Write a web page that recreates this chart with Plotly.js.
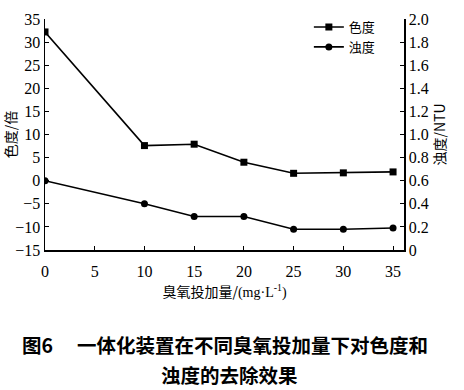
<!DOCTYPE html>
<html><head><meta charset="utf-8">
<script src="https://cdn.plot.ly/plotly-3.0.1.min.js"></script>
<style>html,body{margin:0;padding:0;background:#fff;}#chart{width:464px;height:390px;}</style>
</head><body><div id="chart"></div>
<script>
const dosage = [0, 10, 15, 20, 25, 30, 35];
const colorDegree = [32.2, 7.6, 7.9, 4.0, 1.6, 1.7, 1.9];
const turbidity = [0.60, 0.40, 0.29, 0.29, 0.18, 0.18, 0.19];
const leftTicks = [-15, -10, -5, 0, 5, 10, 15, 20, 25, 30, 35];
const rightTicks = [0, 0.2, 0.4, 0.6, 0.8, 1.0, 1.2, 1.4, 1.6, 1.8, 2.0];
const rightTickText = ['0', '0.2', '0.4', '0.6', '0.8', '1.0', '1.2', '1.4', '1.6', '1.8', '2.0'];
const xTicks = [0, 5, 10, 15, 20, 25, 30, 35];

const serif = 'Liberation Serif, serif';
const cjk = 'Noto Sans CJK SC, sans-serif';

const traces = [
  {x: dosage, y: colorDegree, name: '色度', yaxis: 'y', type: 'scatter', mode: 'lines+markers',
   line: {color: '#000', width: 1.6}, marker: {symbol: 'square', size: 7, color: '#000'}},
  {x: dosage, y: turbidity, name: '浊度', yaxis: 'y2', type: 'scatter', mode: 'lines+markers',
   line: {color: '#000', width: 1.6}, marker: {symbol: 'circle', size: 7, color: '#000'}}
];

const layout = {
  width: 464, height: 390,
  margin: {l: 45, r: 60, t: 19, b: 140},
  paper_bgcolor: '#fff', plot_bgcolor: '#fff',
  showlegend: true,
  legend: {x: 0.735, y: 1.03, xanchor: 'left', yanchor: 'top', itemwidth: 30,
           font: {family: cjk, size: 13, color: '#000'}, bgcolor: 'rgba(0,0,0,0)', tracegroupgap: 0},
  xaxis: {range: [0, 36.1], tickvals: xTicks, ticks: 'inside', ticklen: 4, tickcolor: '#000',
          showline: true, linecolor: '#000', linewidth: 1.5, showgrid: false, zeroline: false,
          ticklabelstandoff: 6,
          tickfont: {family: serif, size: 16, color: '#000'},
          title: {text: '臭氧投加量/<span style="font-family:Liberation Serif">(mg·L<sup>-1</sup>)</span>', font: {family: cjk, size: 14, color: '#000'}, standoff: 8}},
  yaxis: {range: [-15, 35], tickvals: leftTicks, ticks: 'inside', ticklen: 4, tickcolor: '#000',
          showline: true, linecolor: '#000', linewidth: 1.5, showgrid: false, zeroline: false,
          tickfont: {family: serif, size: 16, color: '#000'},
          title: {text: '色度/倍', font: {family: cjk, size: 14, color: '#000'}, standoff: 2}},
  yaxis2: {range: [0, 2.0], overlaying: 'y', side: 'right', tickvals: rightTicks, ticktext: rightTickText,
           ticks: 'inside', ticklen: 4, tickcolor: '#000',
           showline: true, linecolor: '#000', linewidth: 1.5, showgrid: false, zeroline: false,
           tickfont: {family: serif, size: 16, color: '#000'},
           title: {text: '浊度/NTU', font: {family: cjk, size: 14, color: '#000'}, standoff: 6}},
  annotations: [
    {text: '<b>图6　 一体化装置在不同臭氧投加量下对色度和</b>', xref: 'paper', yref: 'paper',
     x: 0.50, y: -0.41, xanchor: 'center', yanchor: 'middle', showarrow: false,
     font: {family: cjk, size: 19.5, color: '#000'}},
    {text: '<b>浊度的去除效果</b>', xref: 'paper', yref: 'paper',
     x: 0.515, y: -0.54, xanchor: 'center', yanchor: 'middle', showarrow: false,
     font: {family: cjk, size: 19.5, color: '#000'}}
  ]
};

Plotly.newPlot('chart', traces, layout, {displayModeBar: false, staticPlot: true});
</script>
</body></html>
